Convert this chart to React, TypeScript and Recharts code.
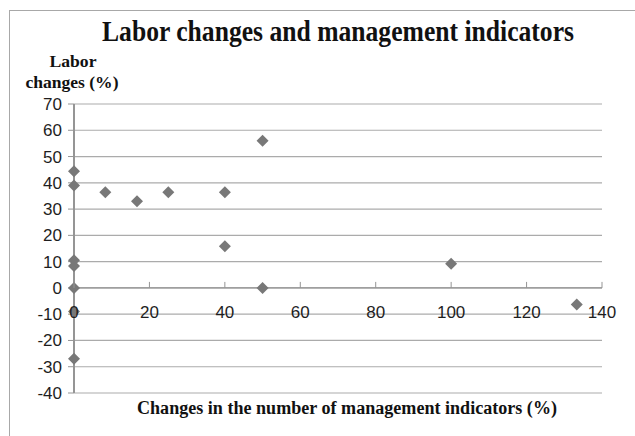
import { ScatterChart, Scatter, XAxis, YAxis, CartesianGrid, ReferenceLine } from 'recharts'

// Changes in management indicators (%) vs labor changes (%)
const indicatorChange = [0, 0, 0, 0, 0, 0, 0, 8.3, 16.7, 25, 40, 40, 50, 50, 100, 133.3]
const laborChange = [44.4, 39, 10.5, 8.3, 0, -9, -27, 36.4, 33, 36.4, 36.4, 15.9, 56, 0, 9.2, -6.3]

const xTicks = [0, 20, 40, 60, 80, 100, 120, 140]
const yTicks = [-40, -30, -20, -10, 0, 10, 20, 30, 40, 50, 60, 70]

const points = indicatorChange.map((x, i) => ({ x, y: laborChange[i] }))

const W = 635
const H = 436
const X_AXIS_H = 43
const M = { top: 104, right: 33, bottom: 0, left: 14 }
const Y_AXIS_W = 60
const plotH = H - M.top - X_AXIS_H
// pixel row of the y = 0 line, where the x axis crosses
const zeroY = M.top + (plotH * 70) / 110

const sans = '"Liberation Sans", Arial, sans-serif'
const serif = '"Liberation Serif", "Times New Roman", serif'
const grid = '#ababab'
const axis = '#959595'

const Diamond = ({ cx, cy }: any) => {
  if (cx == null || cy == null) return null
  const r = 6
  return <polygon points={`${cx},${cy - r} ${cx + r},${cy} ${cx},${cy + r} ${cx - r},${cy}`} fill="#787878" />
}

// x ticks sit on the zero line, labels below it
const XTick = ({ x, payload }: any) => (
  <g>
    <line x1={x} x2={x} y1={zeroY - 6} y2={zeroY} stroke={axis} />
    <text x={x} y={zeroY + 30} textAnchor="middle" fontSize={17} fontFamily={sans} fill="#1e1e1e">
      {payload.value}
    </text>
  </g>
)

export default function App() {
  return (
    <div style={{ position: 'absolute', left: 0, top: 0, width: W, height: H, overflow: 'hidden', background: '#fff' }}>
      <div
        style={{
          position: 'absolute',
          left: 9,
          top: 10,
          width: 700,
          height: 500,
          border: '1.5px solid #a8a8a8',
        }}
      />
      <svg width={W} height={H} style={{ position: 'absolute', left: 0, top: 0 }}>
        <text x={338} y={41} textAnchor="middle" fontSize={29} fontWeight="bold" fontFamily={serif} fill="#111"
          textLength={472} lengthAdjust="spacingAndGlyphs">
          Labor changes and management indicators
        </text>
        <text x={73} y={67} textAnchor="middle" fontSize={17} fontWeight="bold" fontFamily={serif} fill="#111"
          textLength={47} lengthAdjust="spacingAndGlyphs">
          Labor
        </text>
        <text x={72} y={88} textAnchor="middle" fontSize={17} fontWeight="bold" fontFamily={serif} fill="#111"
          textLength={93} lengthAdjust="spacingAndGlyphs">
          changes (%)
        </text>
        <text x={347} y={414} textAnchor="middle" fontSize={18} fontWeight="bold" fontFamily={serif} fill="#111"
          textLength={420} lengthAdjust="spacingAndGlyphs">
          Changes in the number of management indicators (%)
        </text>
      </svg>
      <div style={{ position: 'absolute', left: 0, top: 0 }}>
        <ScatterChart width={W} height={H} margin={M}>
          <CartesianGrid vertical={false} stroke={grid} strokeWidth={1.2} />
          <XAxis
            type="number"
            dataKey="x"
            domain={[0, 140]}
            ticks={xTicks}
            height={X_AXIS_H}
            axisLine={false}
            tickLine={false}
            tick={<XTick />}
            interval={0}
          />
          <YAxis
            type="number"
            dataKey="y"
            domain={[-40, 70]}
            ticks={yTicks}
            width={Y_AXIS_W}
            interval={0}
            axisLine={{ stroke: axis, strokeWidth: 2 }}
            tickLine={{ stroke: axis }}
            tickSize={6}
            tickMargin={6}
            tick={{ fontSize: 17, fontFamily: sans, fill: '#1e1e1e' }}
          />
          <ReferenceLine y={0} stroke={axis} strokeWidth={1.3} />
          <ReferenceLine x={0} stroke={axis} strokeWidth={2} />
          <Scatter data={points} shape={<Diamond />} isAnimationActive={false} />
        </ScatterChart>
      </div>
    </div>
  )
}
